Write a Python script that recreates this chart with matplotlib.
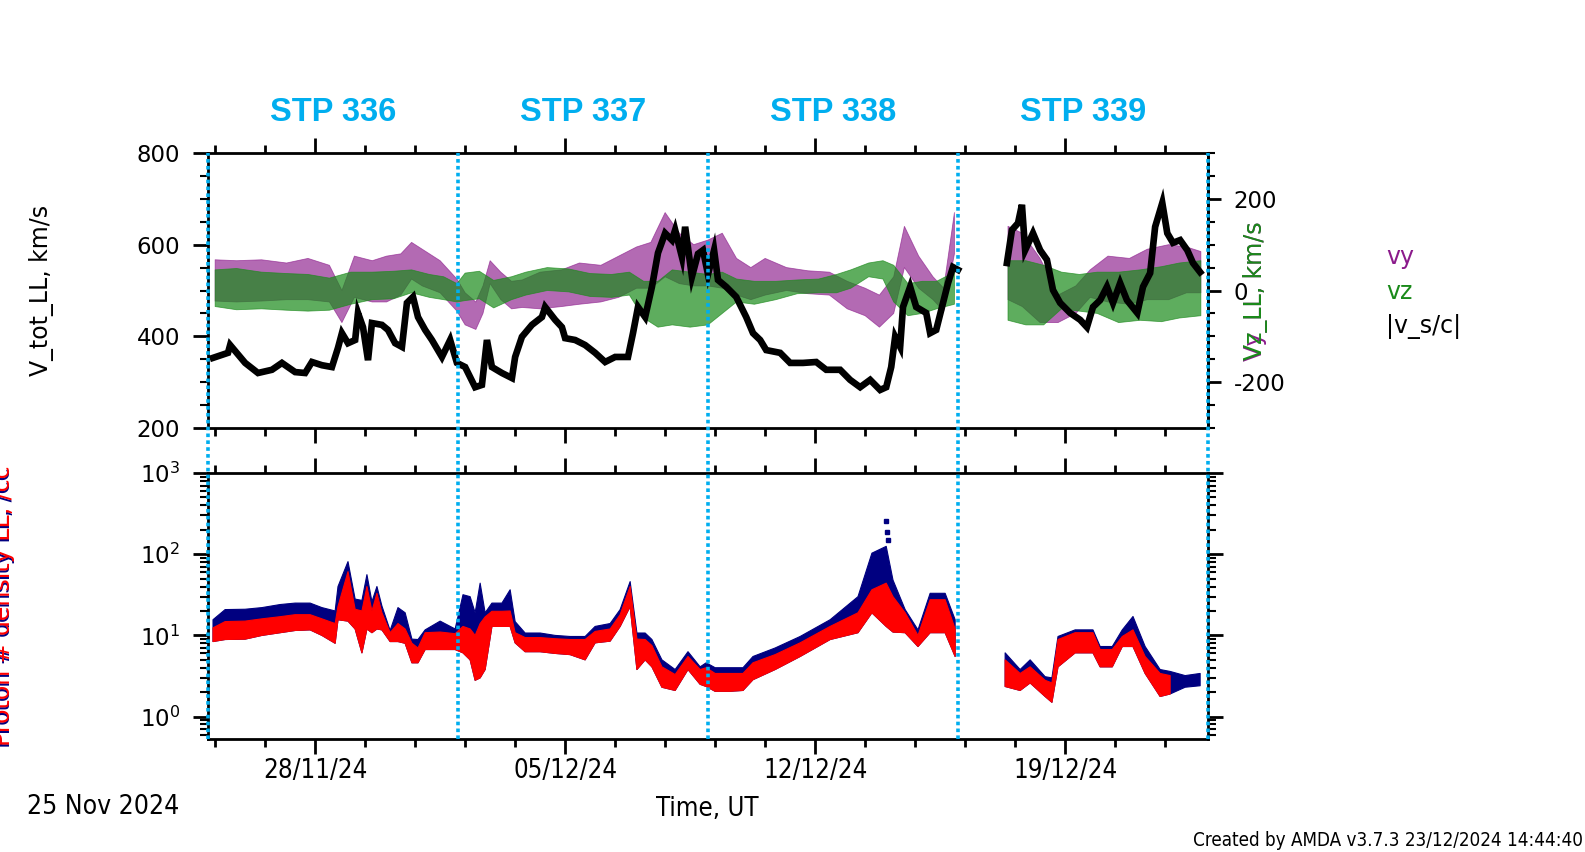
import numpy as np
import matplotlib
matplotlib.use("Agg")
import matplotlib.pyplot as plt
import matplotlib.dates as mdates
from matplotlib.lines import Line2D
from matplotlib.ticker import FixedLocator, MultipleLocator, LogLocator, NullFormatter
from matplotlib import transforms
from matplotlib import font_manager as fm
from datetime import datetime, timedelta

plt.rcParams["axes.unicode_minus"] = False

nan = np.nan
t0 = datetime(2024, 11, 25)

# |v_s/c| (V_tot_LL), km/s  -- day offsets from 25 Nov 2024 00:00
v_days = [0.14, 0.56, 0.62, 1.04, 1.40, 1.79, 2.07, 2.44, 2.72, 2.91, 3.19, 3.47, 3.64, 3.75, 3.92,
          4.12, 4.20, 4.34, 4.48, 4.59, 4.87, 5.04, 5.24, 5.43, 5.57, 5.74, 5.88, 6.08, 6.27, 6.55,
          6.78, 6.97, 7.20, 7.48, 7.67, 7.81, 7.95, 8.23, 8.51, 8.60, 8.79, 9.07, 9.35, 9.44, 9.72,
          9.91, 10.00, 10.28, 10.56, 10.84, 11.12, 11.40, 11.76, 11.90, 12.04, 12.24, 12.43, 12.60,
          12.80, 12.99, 13.08, 13.27, 13.36, 13.55, 13.72, 13.86, 14.00, 14.17, 14.28, 14.51, 14.79,
          15.07, 15.26, 15.46, 15.63, 16.02, 16.30, 16.66, 17.03, 17.31, 17.70, 17.98, 18.26, 18.54,
          18.82, 18.99, 19.13, 19.24, 19.38, 19.46, 19.66, 19.83, 20.11, 20.22, 20.39, 20.53, 20.72,
          20.86, 21.00, 21.50, 22.37, 22.51, 22.68, 22.79, 22.88, 23.10, 23.30, 23.49, 23.66, 23.86,
          24.14, 24.42, 24.61, 24.78, 24.98, 25.17, 25.34, 25.54, 25.73, 26.02, 26.18, 26.38, 26.52,
          26.72, 26.86, 27.02, 27.22, 27.42, 27.58, 27.78]
v_tot = [353, 364, 381, 342, 320, 327, 342, 322, 320, 344, 337, 333, 375, 407, 385,
         392, 451, 420, 348, 429, 425, 414, 385, 377, 473, 486, 442, 414, 392, 355,
         392, 342, 333, 289, 294, 392, 333, 320, 309, 355, 399, 425, 442, 464, 436,
         420, 396, 392, 381, 364, 344, 355, 355, 407, 464, 442, 508, 582,
         625, 610, 632, 573, 639, 530, 580, 588, 535, 588, 523, 508, 486,
         442, 407, 392, 370, 364, 342, 342, 344, 327, 327, 305, 289, 305,
         283, 289, 333, 399, 377, 464, 508, 464, 451, 407, 414, 457, 516,
         551, 545, nan, 560, 632, 647, 687, 588, 625, 588, 567, 501, 473,
         451, 436, 420, 464, 479, 508, 473, 516, 479, 451, 508, 538, 639,
         691, 625, 604, 610, 588, 560, 540]

# vy: centre and half spread of the scatter band, km/s
vy_days = [0.2, 0.8, 1.5, 2.2, 2.8, 3.4, 3.75, 4.1, 4.6, 5.0, 5.4, 5.7, 6.0, 6.5, 6.97, 7.2, 7.5, 7.7,
           7.9, 8.2, 8.5, 8.8, 9.3, 9.9, 10.4, 11.0, 11.5, 12.0, 12.4, 12.8, 13.2, 13.6, 14.0, 14.4,
           14.8, 15.2, 15.6, 16.2, 16.8, 17.4, 17.9, 18.4, 18.8, 19.2, 19.5, 19.9, 20.3, 20.6, 20.9,
           21.5, 22.4, 22.8, 23.3, 23.8, 24.3, 24.7, 25.2, 25.8, 26.3, 26.9, 27.4, 27.8]
vy_mid = [22, 20, 22, 20, 25, 15, -35, 30, 20, 25, 35, 65, 50, 30, -10, -40, -55, -20,
          40, 10, -10, -7, 0, 5, 15, 15, 30, 50, 55, 100, 70, 55, 60, 65,
          30, 15, 30, 25, 18, 15, -10, -25, -45, -10, 95, 40, 5, -20, 125,
          nan, 60, 45, 0, -40, -20, 15, 25, 20, 35, 40, 45, 40]
vy_half = [45, 45, 45, 40, 45, 40, 35, 45, 45, 50, 45, 40, 40, 35, 35, 35, 30, 30,
           25, 30, 30, 30, 40, 40, 45, 40, 45, 45, 50, 70, 55, 45, 50, 60,
           40, 35, 40, 25, 25, 25, 30, 30, 35, 40, 45, 35, 25, 25, 45,
           nan, 80, 80, 70, 30, 30, 30, 50, 50, 55, 60, 50, 45]

# vz: centre and half spread of the scatter band, km/s
vz_days = [0.2, 0.8, 1.5, 2.2, 2.8, 3.4, 4.0, 4.6, 5.2, 5.7, 6.2, 6.6, 6.97, 7.2, 7.6, 8.0, 8.5, 8.9,
           9.5, 10.1, 10.7, 11.3, 11.8, 12.2, 12.6, 13.0, 13.5, 14.0, 14.4, 14.8, 15.3, 15.9, 16.5,
           17.1, 17.6, 18.0, 18.5, 18.9, 19.2, 19.6, 20.0, 20.4, 20.9, 21.5, 22.4, 22.9, 23.4, 23.9,
           24.4, 24.9, 25.5, 26.1, 26.7, 27.2, 27.8]
vz_mid = [5, 3, 0, -3, -5, -8, 5, 10, 12, 20, 10, 5, -5, 8, 12, -8, 5, 15,
          25, 22, 12, 10, 15, -20, -30, -15, -20, -20, -5, 0, -5, 0, 8,
          10, 15, 25, 45, 45, 15, -20, -15, -10, 5, nan, 0, -5, -10, 0,
          -5, -5, -15, -10, -8, 0, 5]
vz_half = [40, 45, 40, 40, 40, 35, 35, 30, 30, 25, 25, 25, 20, 30, 30, 30, 25, 25,
           25, 25, 25, 25, 25, 40, 50, 60, 60, 55, 45, 25, 25, 20, 15,
           15, 20, 20, 15, 20, 40, 35, 35, 30, 35, nan, 65, 70, 65, 40,
           40, 45, 55, 55, 60, 60, 60]

# proton density, /cc : navy (upper) and red bands
n_days = [0.14, 0.48, 1.04, 1.51, 2.02, 2.44, 2.86, 3.19, 3.56, 3.64, 3.92, 4.12, 4.31, 4.45, 4.59,
          4.73, 4.87, 5.10, 5.32, 5.52, 5.71, 5.88, 6.08, 6.50, 6.92, 7.14, 7.34, 7.48, 7.62, 7.76,
          7.95, 8.23, 8.46, 8.60, 8.88, 9.30, 9.72, 10.14, 10.56, 10.84, 11.26, 11.54, 11.82, 12.01,
          12.24, 12.43, 12.71, 13.08, 13.44, 13.78, 13.95, 14.20, 14.62, 14.98, 15.26, 15.88, 16.58,
          17.42, 18.20, 18.59, 18.99, 19.18, 19.52, 19.88, 20.22, 20.64, 20.92, 21.50, 22.32, 22.74,
          23.02, 23.44, 23.63, 23.80, 24.28, 24.78, 24.98, 25.32, 25.60, 25.90, 26.24, 26.66, 26.94,
          27.36, 27.78]
navy_hi = [15.6, 20.8, 21, 22, 24, 25, 25, 22, 20, 40, 81, 28, 27, 56, 26,
           40, 23, 11.5, 22, 19, 9, 8.9, 11.7, 15, 12, 31.7, 30, 19, 44, 19,
           25, 25, 36.5, 14.8, 10.7, 10.7, 10, 9.7, 9.7, 12.9, 14, 20.8, 46, 10.7,
           10.7, 8.9, 5, 3.8, 6.3, 4.1, 4.6, 4.0, 4.0, 4.0, 5.5, 7.0, 9.7,
           15.6, 30, 103, 125, 48, 20.8, 11.7, 33, 33, 15.6, nan, 6.1, 3.8,
           5.0, 3.1, 3.0, 9.7, 11.7, 11.7, 7.3, 7.3, 11.7, 17.1, 7.3, 3.8, 3.6,
           3.2, 3.4]
red_hi = [12.4, 14.8, 15, 16, 17, 18, 18, 16, 14, 22.7, 61, 21, 20, 40, 20,
          33, 19, 10.8, 14, 12, 8, 7, 10.8, 11, 10.5, 12.9, 12, 10, 14, 16.9,
          19.8, 19.8, 20, 10.8, 9.4, 9.4, 9.1, 8.9, 8.9, 11.2, 12, 18, 40, 9,
          8.9, 7.5, 4.1, 3.3, 5.5, 3.8, 4, 3.4, 3.4, 3.4, 4.6, 5.8, 8.1,
          12.9, 19, 36.5, 44, 30, 19, 10, 27.5, 27.5, 12, nan, 5.0, 3.4,
          4.1, 2.8, 2.6, 8.9, 10.8, 10.8, 6.7, 6.7, 9.7, 11.7, 5.5, 3.4, 3.2,
          nan, nan]
red_lo = [8.4, 8.9, 9, 10, 10.8, 11.5, 11.7, 10, 8, 15.6, 15, 12, 6.1, 12, 10.8,
          12, 11.7, 8.4, 8.4, 8, 4.6, 4.6, 6.7, 6.7, 6.7, 6.1, 5, 2.8, 3, 3.8,
          12.9, 12.9, 12.9, 8.1, 6.3, 6.3, 6, 5.8, 5, 8.1, 8.5, 12.9, 22.7, 3.8,
          5, 4.1, 2.3, 2.1, 3.8, 2.5, 2.35, 2.05, 2.05, 2.1, 2.85, 3.8, 5.5,
          8.9, 10.8, 19, 12.9, 11, 10.8, 7.3, 10.8, 10.8, 5.5, nan, 2.35, 2.1,
          2.6, 1.77, 1.5, 4.1, 6.1, 6.1, 4.1, 4.1, 7.3, 7.3, 3.4, 1.77, 1.9,
          nan, nan]
navy_lo = red_lo[:-2] + [2.3, 2.4]
navy_out_days = [18.97, 19.00, 19.03]
navy_out = [253, 190, 150]

stp_names = ["STP 336", "STP 337", "STP 338", "STP 339"]
stp_edges = [0, 7, 14, 21, 28]


def to_dates(days):
    return [t0 + timedelta(days=float(d)) for d in days]


PURPLE = "#8B1A8B"
GREEN = "#1A8A1A"
CYAN = "#00AEEF"

# condensed font for the time axis texts, if there is one
has_cond = any(f.name == "DejaVu Sans" and str(f.stretch) in ("condensed", "semi-condensed")
               for f in fm.fontManager.ttflist)
if has_cond:
    cond = dict(family="DejaVu Sans", fontstretch="condensed")
    csize = 18.5
else:
    cond = dict(family="DejaVu Sans")
    csize = 16.5

W, H = 1585, 852
fig = plt.figure(figsize=(W / 100, H / 100), dpi=100)
ax1 = fig.add_axes([208 / W, 1 - 428 / H, 1000 / W, 275 / H])
ax3 = fig.add_axes([208 / W, 1 - 739 / H, 1000 / W, 266 / H])
ax2 = ax1.twinx()
ax1.set_zorder(ax2.get_zorder() + 1)
ax1.patch.set_visible(False)

# top panel: vy, vz on the right axis, |v| on the left one
vyd = to_dates(vy_days)
vym = np.array(vy_mid, float)
vyh = np.array(vy_half, float)
ax2.fill_between(vyd, vym - vyh, vym + vyh, color=PURPLE, alpha=0.65, lw=0.6)
vzd = to_dates(vz_days)
vzm = np.array(vz_mid, float)
vzh = np.array(vz_half, float)
ax2.fill_between(vzd, vzm - vzh, vzm + vzh, color=GREEN, alpha=0.7, lw=0.6)
ax1.plot(to_dates(v_days), v_tot, color="black", lw=4.8, solid_joinstyle="miter")

ax1.set_ylim(200, 800)
ax1.yaxis.set_major_locator(MultipleLocator(200))
ax1.yaxis.set_minor_locator(MultipleLocator(50))
ax2.set_ylim(-300, 300)
ax2.yaxis.set_major_locator(FixedLocator([-200, 0, 200]))
ax2.yaxis.set_minor_locator(MultipleLocator(50))

# bottom panel: densities
nd = to_dates(n_days)
ax3.fill_between(nd, navy_lo, navy_hi, color="#000080", lw=0.8)
ax3.fill_between(nd, red_lo, red_hi, color="#FF0000", lw=0.8)
ax3.plot(to_dates(navy_out_days), navy_out, ls="none", marker="s", ms=2.2, color="#000080")
ax3.set_yscale("log")
ax3.set_ylim(0.53, 1000)
ax3.yaxis.set_major_locator(LogLocator(base=10, numticks=10))
ax3.yaxis.set_minor_locator(LogLocator(base=10, subs=np.arange(2, 10), numticks=10))
ax3.yaxis.set_minor_formatter(NullFormatter())

# time axis
x0, x1 = t0, t0 + timedelta(days=28)
major_days = [3, 10, 17, 24]
minor_days = [m + 1.4 * k for m in major_days for k in (-2, -1, 1, 2)]
minor_days = sorted(d for d in minor_days if 0 < d < 28)
for ax in (ax1, ax3):
    ax.set_xlim(x0, x1)
    ax.xaxis.set_major_locator(FixedLocator(mdates.date2num(to_dates(major_days))))
    ax.xaxis.set_minor_locator(FixedLocator(mdates.date2num(to_dates(minor_days))))
    ax.xaxis.set_major_formatter(mdates.DateFormatter("%d/%m/%y"))
    for s in ax.spines.values():
        s.set_linewidth(2.0)
ax2.spines["right"].set_linewidth(2.0)

ax1.tick_params(axis="x", which="both", top=True, bottom=True, labelbottom=False, direction="out")
ax3.tick_params(axis="x", which="both", top=True, bottom=True, direction="out")
for ax in (ax1, ax3):
    ax.tick_params(axis="x", which="major", length=11, width=2)
    ax.tick_params(axis="x", which="minor", length=6, width=2)
ax1.tick_params(axis="y", which="major", right=False, length=11, width=2, pad=9, labelsize=16.5)
ax1.tick_params(axis="y", which="minor", right=False, length=5.5, width=1.5)
ax2.tick_params(axis="y", which="major", length=9.5, width=2, pad=9, labelsize=16.5)
ax2.tick_params(axis="y", which="minor", length=5, width=1.5)
ax3.tick_params(axis="y", which="both", left=True, right=True, direction="out")
ax3.tick_params(axis="y", which="major", length=11, width=2, pad=9, labelsize=16.5)
ax3.tick_params(axis="y", which="minor", length=5.5, width=1.5)
for lab in ax3.get_xticklabels():
    lab.set_fontsize(csize)
    lab.set_family(cond["family"])
    if has_cond:
        lab.set_fontstretch("condensed")
ax3.tick_params(axis="x", which="major", pad=3)

# STP boundaries (dotted cyan lines across both panels)
trans = transforms.blended_transform_factory(ax1.transData, fig.transFigure)
for d in stp_edges:
    xd = mdates.date2num(t0 + timedelta(days=d))
    fig.add_artist(Line2D([xd, xd], [1 - 739 / H, 1 - 153 / H], transform=trans,
                          color=CYAN, lw=2.6, ls=(0, (1.0, 0.9)), zorder=10))
for i, name in enumerate(stp_names):
    xm = mdates.date2num(t0 + timedelta(days=(stp_edges[i] + stp_edges[i + 1]) / 2))
    ax1.text(xm, (428 - 112) / 275, name, transform=ax1.get_xaxis_transform(),
             ha="center", va="center", color=CYAN, fontsize=23.5, fontweight="bold",
             family="Liberation Sans")

# labels
fig.text(42 / W, 1 - 290 / H, "V_tot_LL, km/s", rotation=90, ha="center", va="center", fontsize=17)
fig.text(1255 / W, 1 - 291 / H, "Vy_LL, km/s", rotation=90, ha="center", va="center",
         fontsize=17, color=PURPLE)
fig.text(1255 / W, 1 - 291 / H, "Vz_LL, km/s", rotation=90, ha="center", va="center",
         fontsize=17, color=GREEN)
fig.text(10.5 / W, 1 - 607.5 / H, "Proton # density LL, /cc", rotation=90, rotation_mode="anchor",
         ha="center", va="baseline", fontsize=17, color="#000080")
fig.text(10 / W, 1 - 606 / H, "Proton # density LL, /cc", rotation=90, rotation_mode="anchor",
         ha="center", va="baseline", fontsize=17, color="#FF0000")

fig.text(1386 / W, 1 - 257 / H, "vy", color=PURPLE, ha="left", va="center", fontsize=17)
fig.text(1386 / W, 1 - 292 / H, "vz", color=GREEN, ha="left", va="center", fontsize=17)
fig.text(1386 / W, 1 - 326 / H, "|v_s/c|", color="black", ha="left", va="center", fontsize=17)

fig.text(27 / W, 1 - 807 / H, "25 Nov 2024", ha="left", va="center", fontsize=csize + 0.5, **cond)
fig.text(707 / W, 1 - 809 / H, "Time, UT", ha="center", va="center", fontsize=csize, **cond)
fig.text(1583 / W, 1 - 840 / H, "Created by AMDA v3.7.3 23/12/2024 14:44:40", ha="right",
         va="center", fontsize=csize * 0.73, **cond)

fig.savefig("out.png", dpi=100)
